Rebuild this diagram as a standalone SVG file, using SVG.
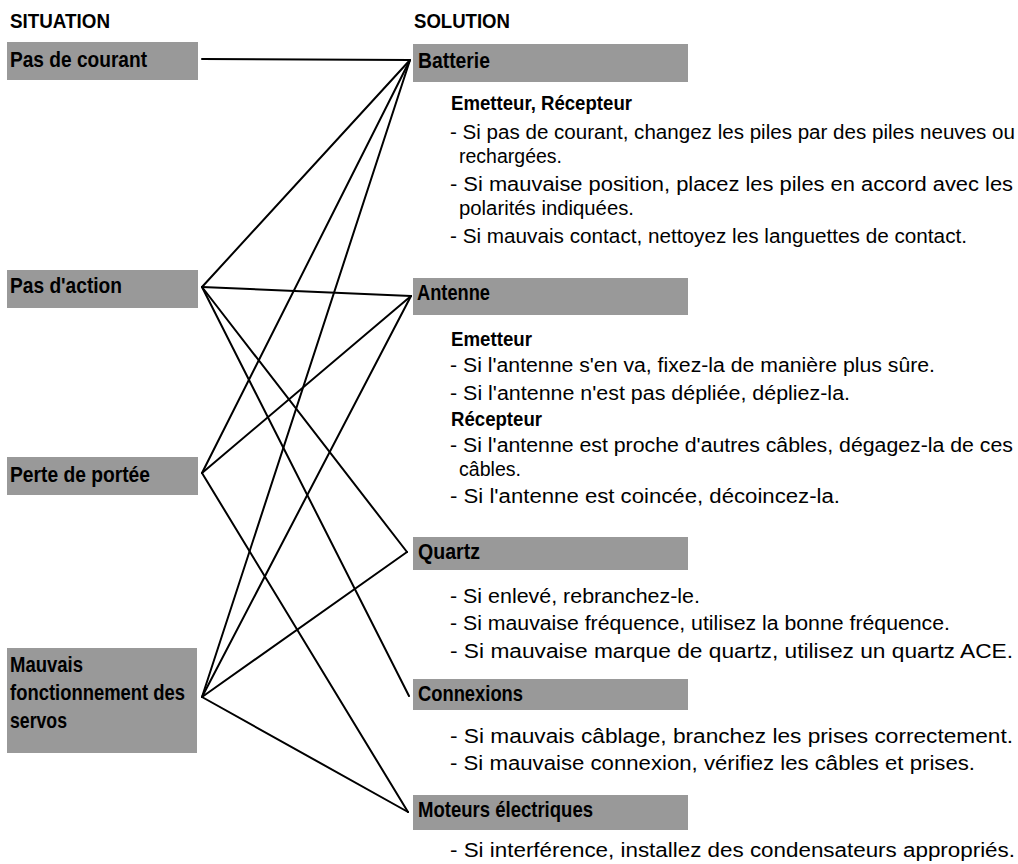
<svg xmlns="http://www.w3.org/2000/svg" width="1018" height="864" viewBox="0 0 1018 864">
<style>
.bg{fill:#ffffff}
.box{fill:#999999}
.hd{font-family:"Liberation Sans",Arial,sans-serif;font-weight:bold;font-size:20px;fill:#000}
.lb{font-family:"Liberation Sans",Arial,sans-serif;font-weight:bold;font-size:22px;fill:#000}
.sub{font-family:"Liberation Sans",Arial,sans-serif;font-weight:bold;font-size:19.5px;fill:#000}
.tx{font-family:"Liberation Sans",Arial,sans-serif;font-size:19.5px;fill:#000}
.cn line{stroke:#000;stroke-width:2;stroke-linecap:round}
</style>
<rect class="bg" x="0" y="0" width="1018" height="864"/>
<text class="hd" x="10" y="28" textLength="100" lengthAdjust="spacingAndGlyphs">SITUATION</text>
<text class="hd" x="414" y="28" textLength="96" lengthAdjust="spacingAndGlyphs">SOLUTION</text>

<g id="sit-courant">
<rect class="box" x="7" y="42" width="191" height="38"/>
<text class="lb" x="10" y="67" textLength="137" lengthAdjust="spacingAndGlyphs">Pas de courant</text>
</g>
<g id="sit-action">
<rect class="box" x="7" y="270" width="191" height="38"/>
<text class="lb" x="10" y="293" textLength="112" lengthAdjust="spacingAndGlyphs">Pas d'action</text>
</g>
<g id="sit-portee">
<rect class="box" x="7" y="457" width="191" height="38"/>
<text class="lb" x="10" y="482" textLength="140" lengthAdjust="spacingAndGlyphs">Perte de portée</text>
</g>
<g id="sit-servos">
<rect class="box" x="7" y="648" width="190" height="105"/>
<text class="lb" x="10" y="672" textLength="73" lengthAdjust="spacingAndGlyphs">Mauvais</text>
<text class="lb" x="10" y="700" textLength="175" lengthAdjust="spacingAndGlyphs">fonctionnement des</text>
<text class="lb" x="10" y="728" textLength="57" lengthAdjust="spacingAndGlyphs">servos</text>
</g>

<g id="sol-batterie">
<rect class="box" x="413" y="44" width="275" height="38"/>
<text class="lb" x="418" y="68" textLength="72" lengthAdjust="spacingAndGlyphs">Batterie</text>
<text class="sub" x="451" y="110" textLength="181" lengthAdjust="spacingAndGlyphs">Emetteur, Récepteur</text>
<text class="tx" x="450" y="139" textLength="565" lengthAdjust="spacingAndGlyphs">- Si pas de courant, changez les piles par des piles neuves ou</text>
<text class="tx" x="459" y="163" textLength="103" lengthAdjust="spacingAndGlyphs">rechargées.</text>
<text class="tx" x="450" y="191" textLength="563" lengthAdjust="spacingAndGlyphs">- Si mauvaise position, placez les piles en accord avec les</text>
<text class="tx" x="459" y="215" textLength="175" lengthAdjust="spacingAndGlyphs">polarités indiquées.</text>
<text class="tx" x="450" y="243" textLength="517" lengthAdjust="spacingAndGlyphs">- Si mauvais contact, nettoyez les languettes de contact.</text>
</g>
<g id="sol-antenne">
<rect class="box" x="413" y="278" width="275" height="37"/>
<text class="lb" x="417" y="300" textLength="73" lengthAdjust="spacingAndGlyphs">Antenne</text>
<text class="sub" x="451" y="346" textLength="81" lengthAdjust="spacingAndGlyphs">Emetteur</text>
<text class="tx" x="450" y="372" textLength="485" lengthAdjust="spacingAndGlyphs">- Si l'antenne s'en va, fixez-la de manière plus sûre.</text>
<text class="tx" x="450" y="400" textLength="400" lengthAdjust="spacingAndGlyphs">- Si l'antenne n'est pas dépliée, dépliez-la.</text>
<text class="sub" x="451" y="426" textLength="91" lengthAdjust="spacingAndGlyphs">Récepteur</text>
<text class="tx" x="450" y="452" textLength="563" lengthAdjust="spacingAndGlyphs">- Si l'antenne est proche d'autres câbles, dégagez-la de ces</text>
<text class="tx" x="459" y="476" textLength="62" lengthAdjust="spacingAndGlyphs">câbles.</text>
<text class="tx" x="450" y="503" textLength="390" lengthAdjust="spacingAndGlyphs">- Si l'antenne est coincée, décoincez-la.</text>
</g>
<g id="sol-quartz">
<rect class="box" x="413" y="537" width="275" height="33"/>
<text class="lb" x="418" y="559" textLength="62" lengthAdjust="spacingAndGlyphs">Quartz</text>
<text class="tx" x="450" y="603" textLength="250" lengthAdjust="spacingAndGlyphs">- Si enlevé, rebranchez-le.</text>
<text class="tx" x="450" y="630" textLength="500" lengthAdjust="spacingAndGlyphs">- Si mauvaise fréquence, utilisez la bonne fréquence.</text>
<text class="tx" x="450" y="658" textLength="563" lengthAdjust="spacingAndGlyphs">- Si mauvaise marque de quartz, utilisez un quartz ACE.</text>
</g>
<g id="sol-connexions">
<rect class="box" x="413" y="679" width="275" height="31"/>
<text class="lb" x="418" y="701" textLength="105" lengthAdjust="spacingAndGlyphs">Connexions</text>
<text class="tx" x="450" y="743" textLength="563" lengthAdjust="spacingAndGlyphs">- Si mauvais câblage, branchez les prises correctement.</text>
<text class="tx" x="450" y="770" textLength="525" lengthAdjust="spacingAndGlyphs">- Si mauvaise connexion, vérifiez les câbles et prises.</text>
</g>
<g id="sol-moteurs">
<rect class="box" x="413" y="795" width="275" height="35"/>
<text class="lb" x="418" y="817" textLength="175" lengthAdjust="spacingAndGlyphs">Moteurs électriques</text>
<text class="tx" x="450" y="857" textLength="565" lengthAdjust="spacingAndGlyphs">- Si interférence, installez des condensateurs appropriés.</text>
</g>

<g id="connectors" class="cn">
<line x1="202" y1="59" x2="410" y2="60"/>
<line x1="202" y1="287" x2="410" y2="60"/>
<line x1="202" y1="287" x2="411" y2="296"/>
<line x1="202" y1="287" x2="407" y2="552"/>
<line x1="202" y1="287" x2="409" y2="696"/>
<line x1="202" y1="473" x2="410" y2="60"/>
<line x1="202" y1="473" x2="411" y2="296"/>
<line x1="202" y1="473" x2="408" y2="812"/>
<line x1="202" y1="697" x2="410" y2="60"/>
<line x1="202" y1="697" x2="411" y2="296"/>
<line x1="202" y1="697" x2="407" y2="552"/>
<line x1="202" y1="697" x2="408" y2="812"/>
</g>
</svg>
